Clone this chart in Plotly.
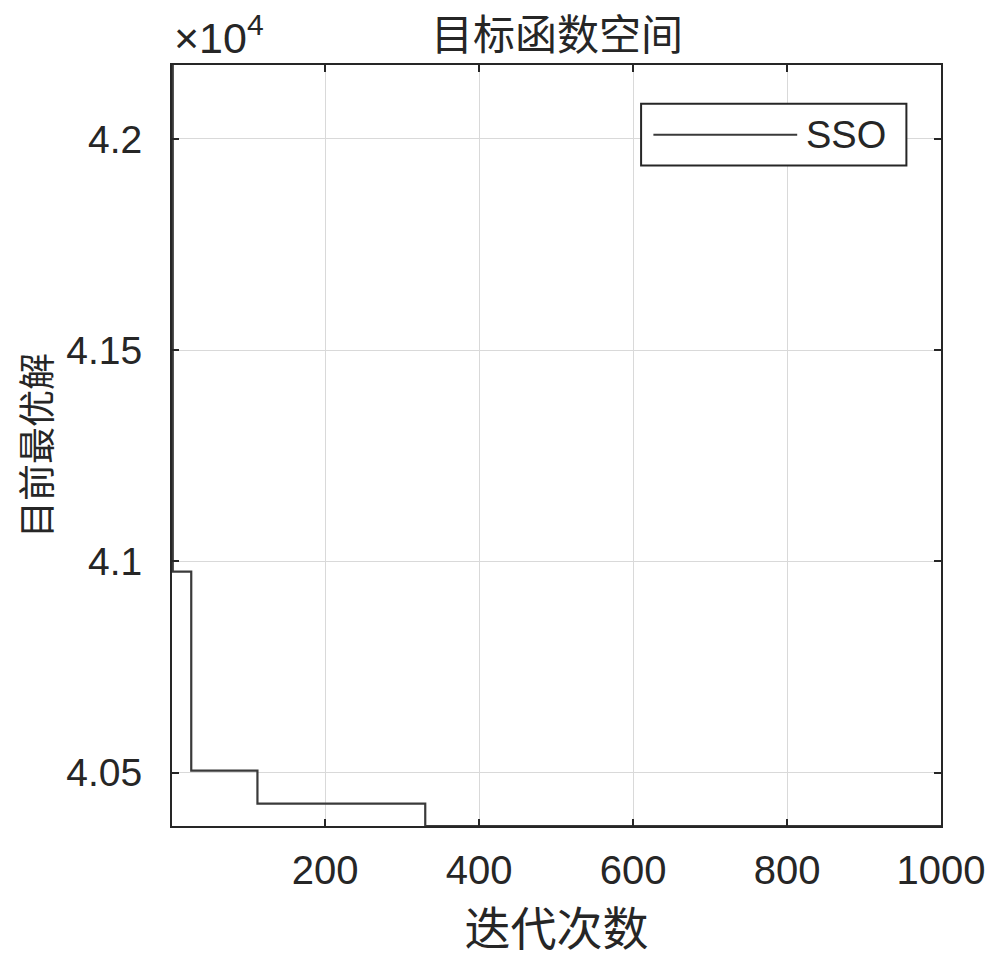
import plotly.graph_objects as go

# ---- data ----
iterations = [1, 2, 26, 112, 330, 1000]
best_values = [42175, 40976, 40505, 40427, 40374, 40374]
series_name = "SSO"

x_tick_vals = [200, 400, 600, 800, 1000]
x_tick_text = ["200", "400", "600", "800", "1000"]
y_tick_vals = [40500, 41000, 41500, 42000]
y_tick_text = ["4.05", "4.1", "4.15", "4.2"]

title_text = "目标函数空间"
x_title = "迭代次数"
y_title = "目前最优解"

LATIN = "Liberation Sans, Arial, sans-serif"
CJK = "Noto Sans CJK SC, sans-serif"
LINE_COLOR = "#3a3a3a"
TXT = "#262626"

fig = go.Figure()
fig.add_trace(go.Scatter(
    x=iterations, y=best_values, mode="lines", line_shape="hv",
    name=series_name, showlegend=False,
    line=dict(color=LINE_COLOR, width=2.2),
))

axis_common = dict(
    showline=True, linecolor=TXT, linewidth=2, mirror="ticks",
    ticks="inside", ticklen=7, tickwidth=1.5, tickcolor=TXT,
    showgrid=True, gridcolor="#d9d9d9", gridwidth=1, zeroline=False,
    automargin=False,
)

fig.update_xaxes(range=[1, 1000], tickvals=x_tick_vals, ticktext=x_tick_text,
                 tickfont=dict(family=LATIN, size=40, color=TXT), ticklabelstandoff=8,
                 title=dict(text=x_title, font=dict(family=CJK, size=46, color=TXT), standoff=9),
                 **axis_common)
fig.update_yaxes(range=[min(best_values), max(best_values)], tickvals=y_tick_vals, ticktext=y_tick_text,
                 tickfont=dict(family=LATIN, size=39, color=TXT), ticklabelstandoff=20,
                 title=dict(text=y_title, font=dict(family=CJK, size=37, color=TXT), standoff=31),
                 **axis_common)

# custom legend (long line sample like MATLAB)
lx0, lx1, ly0, ly1 = 0.61, 0.955, 0.868, 0.949
fig.add_shape(type="rect", xref="paper", yref="paper", x0=lx0, x1=lx1, y0=ly0, y1=ly1,
              line=dict(color=TXT, width=2), fillcolor="white", layer="above")
fig.add_shape(type="line", xref="paper", yref="paper", x0=lx0 + 0.016, x1=lx0 + 0.203,
              y0=(ly0 + ly1) / 2, y1=(ly0 + ly1) / 2, line=dict(color=LINE_COLOR, width=2), layer="above")
fig.add_annotation(xref="paper", yref="paper", x=lx0 + 0.212, y=(ly0 + ly1) / 2,
                   text=series_name, showarrow=False, xanchor="left", yanchor="middle",
                   font=dict(family=LATIN, size=38, color=TXT))

# exponent label
fig.add_annotation(xref="paper", yref="paper", x=0.0, y=1.0, xanchor="left", yanchor="bottom",
                   text="×10<sup>4</sup>", showarrow=False, yshift=1,
                   font=dict(family=LATIN, size=43, color=TXT))

# title
fig.add_annotation(xref="paper", yref="paper", x=0.5, y=1.0, xanchor="center", yanchor="bottom",
                   text=title_text, showarrow=False, yshift=1,
                   font=dict(family=CJK, size=42, color=TXT))

fig.update_layout(
    width=992, height=956,
    margin=dict(l=164, r=59, t=57, b=138),
    paper_bgcolor="white", plot_bgcolor="white",
)

fig.write_html("out.html")
